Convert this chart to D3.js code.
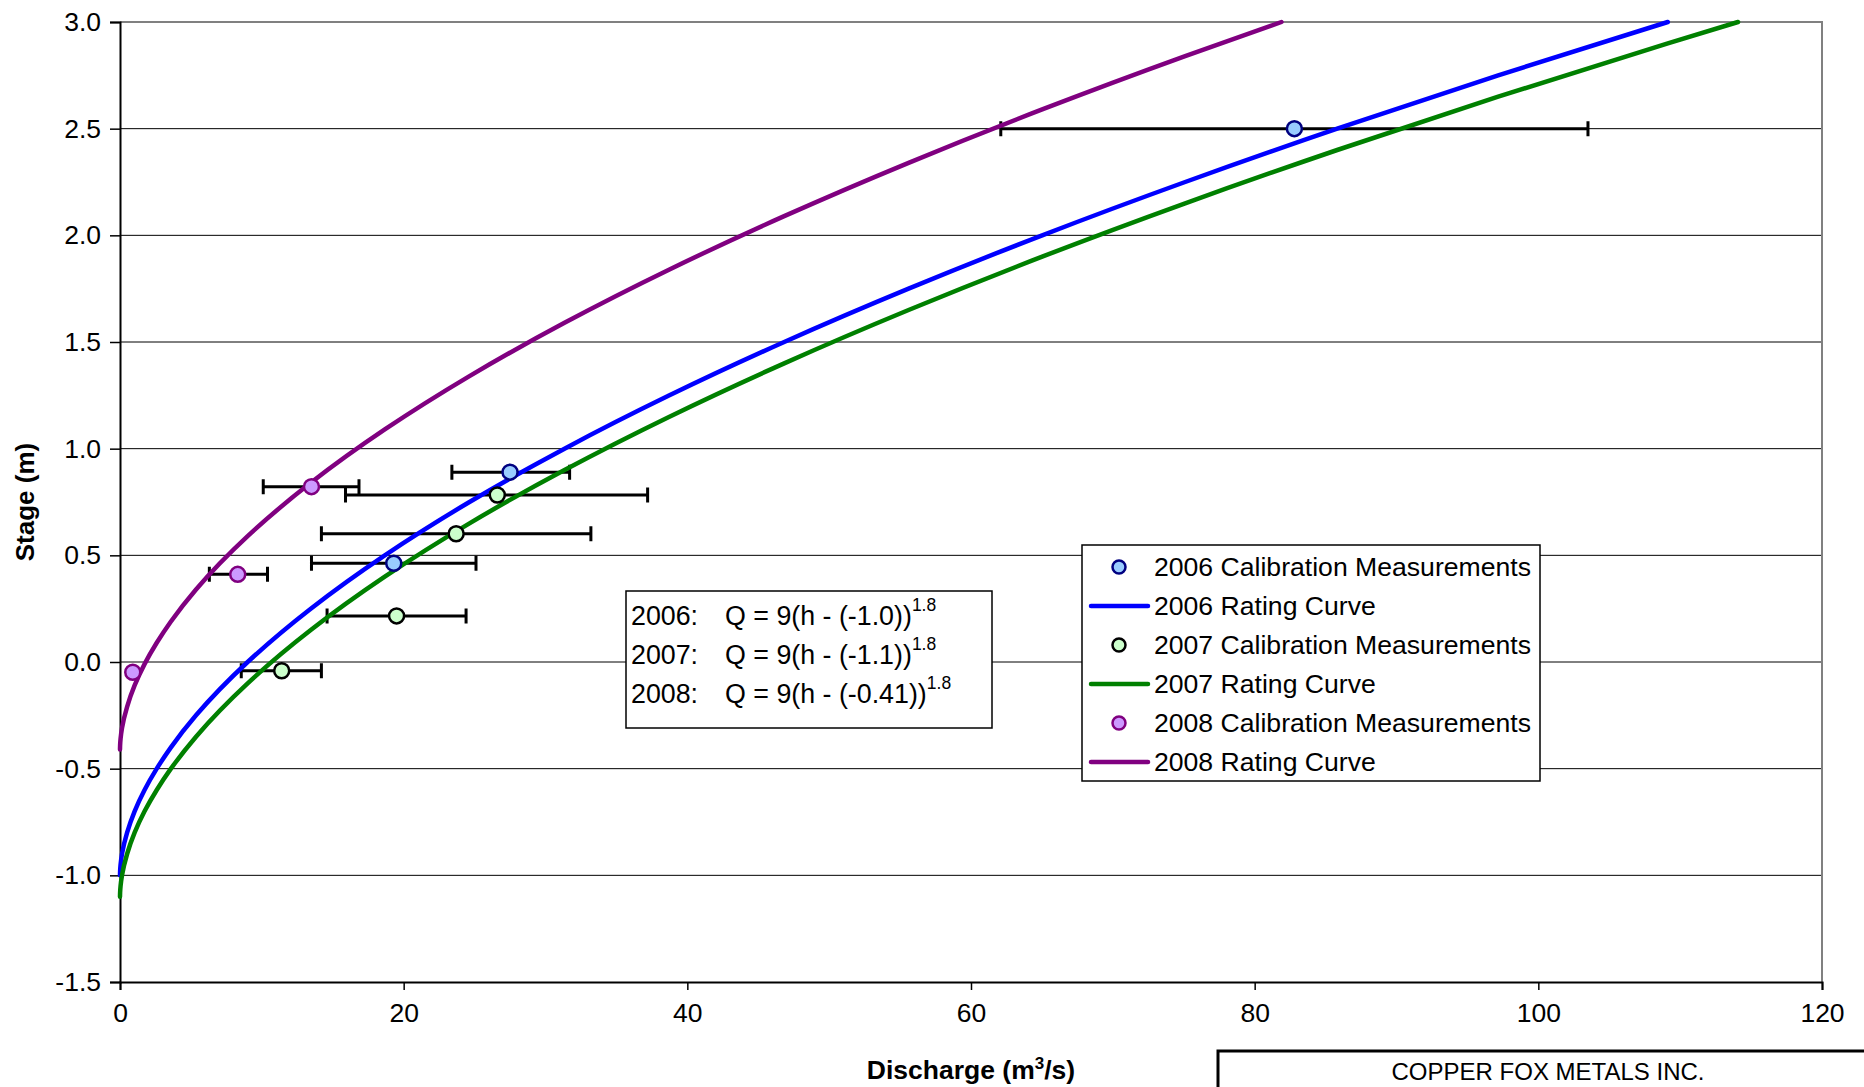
<!DOCTYPE html>
<html>
<head>
<meta charset="utf-8">
<script src="https://cdn.jsdelivr.net/npm/d3@7"></script>
<style>
  html, body { margin: 0; padding: 0; background: #fff; }
  svg { display: block; font-family: "Liberation Sans", Arial, sans-serif; }
</style>
</head>
<body>
<div id="chart"></div>
<script>
// axis ticks
const xTicks = [0, 20, 40, 60, 80, 100, 120];
const yTicks = [-1.5, -1.0, -0.5, 0, 0.5, 1.0, 1.5, 2.0, 2.5, 3.0];

// rating curves (stage m, discharge m3/s)
const stage2006 = [-1.0, -0.98, -0.95, -0.9, -0.8, -0.7, -0.6, -0.5, -0.4, -0.25, 0, 0.25, 0.5, 0.75, 1.0, 1.25, 1.5, 1.75, 2.0, 2.25, 2.5, 2.75, 3.0];
const flow2006 = [0, 0.008, 0.04, 0.14, 0.5, 1.03, 1.73, 2.59, 3.59, 5.36, 9.0, 13.45, 18.67, 24.64, 31.34, 38.74, 46.83, 55.6, 65.02, 75.1, 85.82, 97.17, 109.13];

const stage2007 = [-1.1, -1.08, -1.05, -1.0, -0.9, -0.8, -0.7, -0.6, -0.5, -0.35, -0.1, 0.15, 0.4, 0.65, 0.9, 1.15, 1.4, 1.65, 1.9, 2.15, 2.4, 2.65, 2.9, 3.0];
const flow2007 = [0, 0.008, 0.04, 0.14, 0.5, 1.03, 1.73, 2.59, 3.59, 5.36, 9.0, 13.45, 18.67, 24.64, 31.34, 38.74, 46.83, 55.6, 65.02, 75.1, 85.82, 97.17, 109.13, 114.08];

const stage2008 = [-0.41, -0.39, -0.36, -0.31, -0.21, -0.11, -0.01, 0.09, 0.19, 0.34, 0.59, 0.84, 1.09, 1.34, 1.59, 1.84, 2.09, 2.34, 2.59, 2.84, 3.0];
const flow2008 = [0, 0.008, 0.04, 0.14, 0.5, 1.03, 1.73, 2.59, 3.59, 5.36, 9.0, 13.45, 18.67, 24.64, 31.34, 38.74, 46.83, 55.6, 65.02, 75.1, 81.89];

// calibration measurements: discharge, stage, error bar low / high
const meas2006 = [
  { q: 82.8, h: 2.5, lo: 62.1, hi: 103.5 },
  { q: 27.5, h: 0.89, lo: 23.4, hi: 31.7 },
  { q: 19.3, h: 0.463, lo: 13.5, hi: 25.1 }
];
const meas2007 = [
  { q: 26.6, h: 0.783, lo: 15.9, hi: 37.2 },
  { q: 23.7, h: 0.601, lo: 14.2, hi: 33.2 },
  { q: 19.5, h: 0.216, lo: 14.6, hi: 24.4 },
  { q: 11.4, h: -0.041, lo: 8.55, hi: 14.2 }
];
const meas2008 = [
  { q: 13.5, h: 0.822, lo: 10.1, hi: 16.85 },
  { q: 8.3, h: 0.411, lo: 6.3, hi: 10.4 },
  { q: 0.9, h: -0.048, lo: 0.9, hi: 0.9 }
];

const years = ["2006", "2007", "2008"];
const lineColors = ["#0000ff", "#008000", "#800080"];
const dotFills = ["#99ccff", "#ccffcc", "#cc99ff"];
const dotStrokes = ["#000080", "#000000", "#800080"];
const equations = [
  { year: "2006", body: "Q = 9(h - (-1.0))" },
  { year: "2007", body: "Q = 9(h - (-1.1))" },
  { year: "2008", body: "Q = 9(h - (-0.41))" }
];

const width = 1864;
const height = 1087;
const marginLeft = 120;
const marginRight = 42;
const marginTop = 22;
const marginBottom = 105;

const x = d3.scaleLinear().domain([0, 120]).range([marginLeft, width - marginRight]);
const y = d3.scaleLinear().domain([-1.5, 3.0]).range([height - marginBottom, marginTop]);

const svg = d3.select("#chart").append("svg")
  .attr("width", width)
  .attr("height", height)
  .attr("viewBox", [0, 0, width, height]);

// grid
svg.append("g")
  .selectAll("line")
  .data(yTicks.filter(d => d > -1.5 && d < 3.0))
  .join("line")
  .attr("x1", x(0)).attr("x2", x(120))
  .attr("y1", d => y(d)).attr("y2", d => y(d))
  .attr("stroke", "#000").attr("stroke-width", 1);

// frame top / right in gray
svg.append("path")
  .attr("d", `M${x(0)},${y(3)}H${x(120)}V${y(-1.5)}`)
  .attr("fill", "none").attr("stroke", "#808080").attr("stroke-width", 2);

// axes
const yAxisG = svg.append("g")
  .attr("transform", `translate(${x(0)},0)`)
  .call(d3.axisLeft(y).tickValues(yTicks).tickSize(10).tickPadding(9).tickFormat(d => d.toFixed(1)))
  .attr("font-family", null).attr("font-size", 26.5);
yAxisG.select(".domain").attr("stroke", "#000").attr("stroke-width", 2);
yAxisG.selectAll(".tick line").attr("stroke-width", 1.5);
yAxisG.selectAll(".tick text").attr("fill", "#000");

const xAxisG = svg.append("g")
  .attr("transform", `translate(0,${y(-1.5)})`)
  .call(d3.axisBottom(x).tickValues(xTicks).tickSize(8).tickPadding(13))
  .attr("font-family", null).attr("font-size", 26.5);
xAxisG.select(".domain").attr("stroke", "#000").attr("stroke-width", 2);
xAxisG.selectAll(".tick line").attr("stroke-width", 1.5);
xAxisG.selectAll(".tick text").attr("fill", "#000");

// axis titles
svg.append("text")
  .attr("transform", `translate(34,${(y(3) + y(-1.5)) / 2}) rotate(-90)`)
  .attr("text-anchor", "middle")
  .attr("font-weight", "bold").attr("font-size", 26)
  .text("Stage (m)");

const xTitle = svg.append("text")
  .attr("x", (x(0) + x(120)) / 2).attr("y", 1079)
  .attr("text-anchor", "middle")
  .attr("font-weight", "bold").attr("font-size", 26.5);
xTitle.append("tspan").text("Discharge (m");
xTitle.append("tspan").attr("font-size", 17).attr("dy", -10).text("3");
xTitle.append("tspan").attr("dy", 10).text("/s)");

// error bars
const allMeas = [meas2006, meas2007, meas2008];
const capH = 7.5;
allMeas.forEach(set => {
  const g = svg.append("g").attr("stroke", "#000").attr("stroke-width", 3).attr("fill", "none");
  set.filter(d => d.hi > d.lo).forEach(d => {
    g.append("path").attr("d",
      `M${x(d.lo)},${y(d.h)}H${x(d.hi)}` +
      `M${x(d.lo)},${y(d.h) - capH}V${y(d.h) + capH}` +
      `M${x(d.hi)},${y(d.h) - capH}V${y(d.h) + capH}`);
  });
});

// rating curves
const curves = [
  d3.zip(flow2006, stage2006),
  d3.zip(flow2007, stage2007),
  d3.zip(flow2008, stage2008)
];
const line = d3.line()
  .x(d => x(d[0]))
  .y(d => y(d[1]))
  .curve(d3.curveMonotoneY);

curves.forEach((c, i) => {
  svg.append("path")
    .attr("d", line(c))
    .attr("fill", "none")
    .attr("stroke", lineColors[i])
    .attr("stroke-width", 4.5)
    .attr("stroke-linecap", "round");
});

// measurement points
allMeas.forEach((set, i) => {
  svg.append("g")
    .selectAll("circle")
    .data(set)
    .join("circle")
    .attr("cx", d => x(d.q))
    .attr("cy", d => y(d.h))
    .attr("r", 7.5)
    .attr("fill", dotFills[i])
    .attr("stroke", dotStrokes[i])
    .attr("stroke-width", 2.5);
});

// equation box
const eq = svg.append("g").attr("transform", "translate(626,591)");
eq.append("rect")
  .attr("width", 366).attr("height", 137)
  .attr("fill", "#fff").attr("stroke", "#000").attr("stroke-width", 1.5);
equations.forEach((e, i) => {
  const yy = 34 + i * 39;
  eq.append("text").attr("x", 5).attr("y", yy).attr("font-size", 26.8).text(e.year + ":");
  const t = eq.append("text").attr("x", 99).attr("y", yy).attr("font-size", 26.8);
  t.append("tspan").text(e.body);
  t.append("tspan").attr("font-size", 17.5).attr("dy", -14).text("1.8");
});

// legend
const legendItems = [];
years.forEach((yr, i) => {
  legendItems.push({ type: "dot", i, label: yr + " Calibration Measurements" });
  legendItems.push({ type: "line", i, label: yr + " Rating Curve" });
});
const lg = svg.append("g").attr("transform", "translate(1082,545)");
lg.append("rect")
  .attr("width", 458).attr("height", 236)
  .attr("fill", "#fff").attr("stroke", "#000").attr("stroke-width", 1.5);
legendItems.forEach((d, k) => {
  const cy = 22 + k * 39;
  if (d.type === "dot") {
    lg.append("circle")
      .attr("cx", 37).attr("cy", cy).attr("r", 6.5)
      .attr("fill", dotFills[d.i]).attr("stroke", dotStrokes[d.i]).attr("stroke-width", 2.5);
  } else {
    lg.append("line")
      .attr("x1", 9).attr("x2", 66).attr("y1", cy).attr("y2", cy)
      .attr("stroke", lineColors[d.i]).attr("stroke-width", 4.5).attr("stroke-linecap", "round");
  }
  lg.append("text").attr("x", 72).attr("y", cy + 9).attr("font-size", 26.6).text(d.label);
});

// company box at bottom right
svg.append("path")
  .attr("d", `M1218,${height + 5}V1051H${width + 5}`)
  .attr("fill", "none").attr("stroke", "#000").attr("stroke-width", 3);
svg.append("text")
  .attr("x", 1548).attr("y", 1080)
  .attr("text-anchor", "middle").attr("font-size", 24)
  .text("COPPER FOX METALS INC.");
</script>
</body>
</html>
